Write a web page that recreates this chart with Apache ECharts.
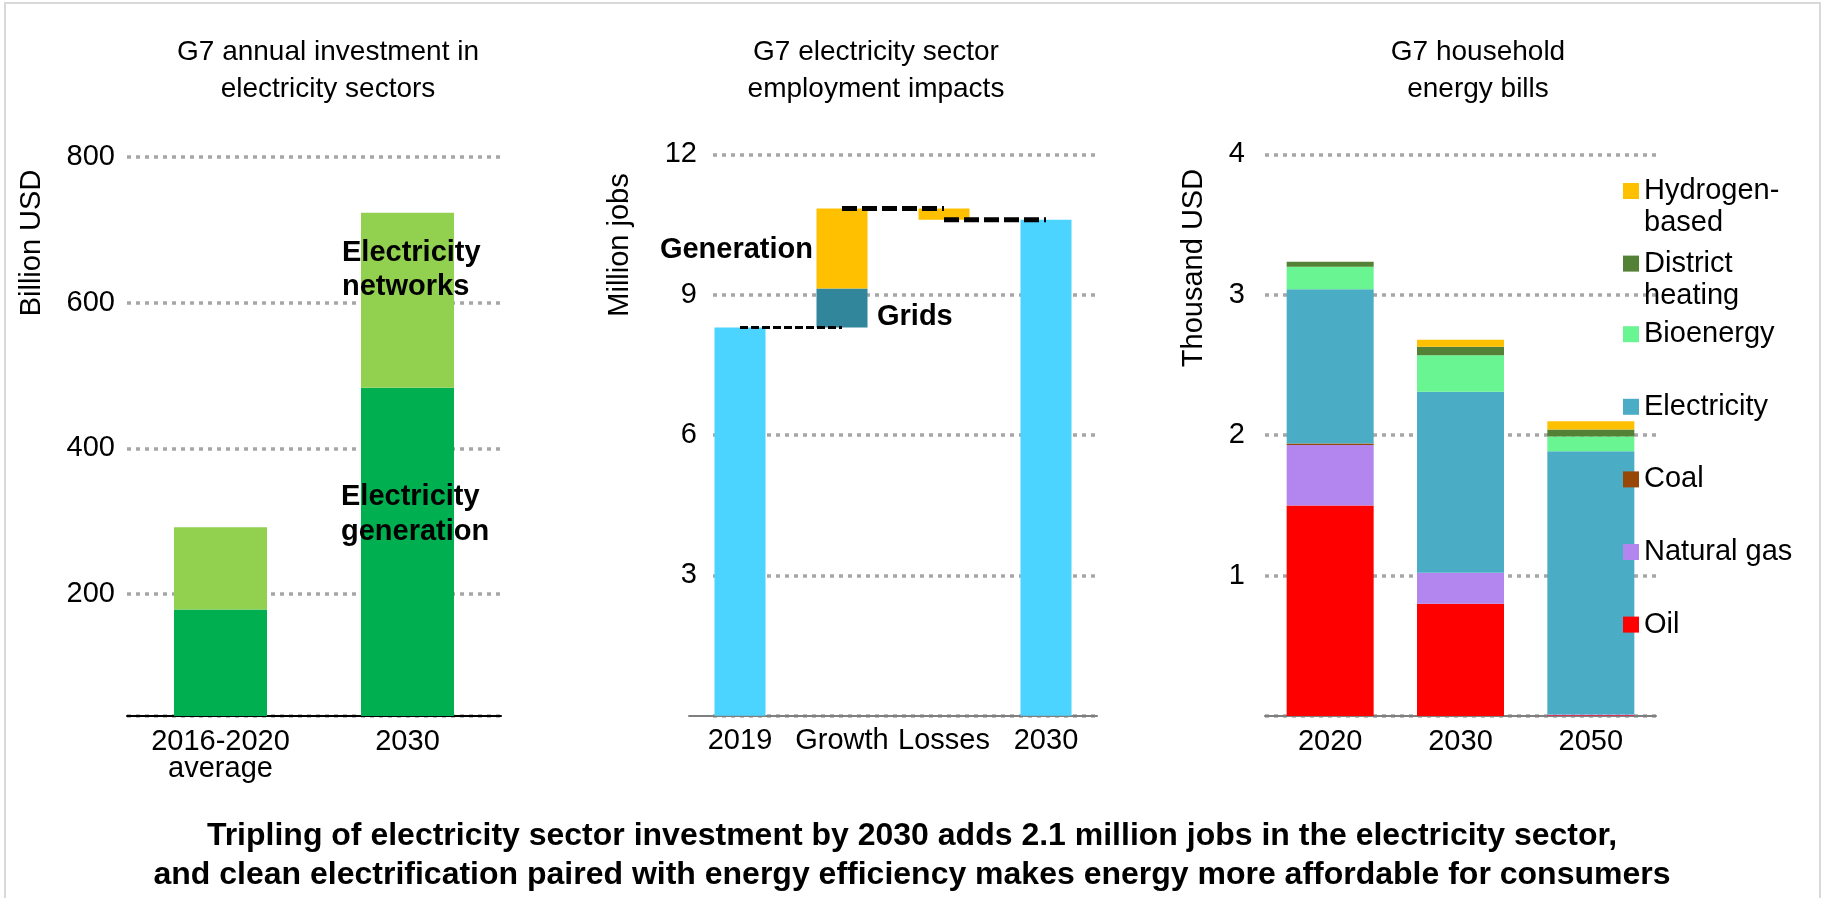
<!DOCTYPE html>
<html>
<head>
<meta charset="utf-8">
<script src="https://cdn.jsdelivr.net/npm/echarts@6/dist/echarts.min.js"></script>
<style>
  html, body { margin: 0; padding: 0; background: #fff; }
  #chart { width: 1825px; height: 898px; }
</style>
</head>
<body>
<div id="chart"></div>
<script>
// Panel 1: G7 annual investment in electricity sectors (billion USD)
const investCategories = ['2016-2020\naverage', '2030'];
const investGeneration = [179, 483];
const investNetworks = [113, 240];

// Panel 2: G7 electricity sector employment (million jobs), waterfall
const jobsCategories = ['2019', 'Growth', 'Losses', '2030'];
const jobsLevel = [8.30, null, null, 10.60];
const jobsGrids = [null, 0.83, null, null];
const jobsGeneration = [null, 1.71, null, null];
const jobsLosses = [null, null, 0.24, null];

// Panel 3: G7 household energy bills (thousand USD)
const billYears = ['2020', '2030', '2050'];
const billOil = [1.50, 0.80, 0.005];
const billNaturalGas = [0.43, 0.22, 0.005];
const billCoal = [0.01, 0, 0];
const billElectricity = [1.10, 1.29, 1.875];
const billBioenergy = [0.16, 0.26, 0.105];
const billDistrictHeating = [0.035, 0.06, 0.05];
const billHydrogen = [0, 0.05, 0.06];

// Legend entries, top to bottom, with their displayed wording
const billLegendNames = ['Hydrogen-based', 'District heating', 'Bioenergy', 'Electricity', 'Coal', 'Natural gas', 'Oil'];
const billLegendText = ['Hydrogen-\nbased', 'District\nheating', 'Bioenergy', 'Electricity', 'Coal', 'Natural gas', 'Oil'];

const FONT = "'Liberation Sans', Arial, Helvetica, sans-serif";
const dash = v => (v === null ? '-' : v);

// Waterfall levels derived from the data
const jobsStart = jobsLevel[0];
const jobsPeak = jobsStart + jobsGrids[1] + jobsGeneration[1];
const jobsAfterLosses = jobsPeak - jobsLosses[2];
const jobsBase = [0, jobsStart, jobsAfterLosses, 0];

const gridLine = { show: true, lineStyle: { color: '#A6A6A6', width: 3.5, type: [4, 5] } };
const tickLabel = { color: '#000', fontSize: 29, fontFamily: FONT };

const chart = echarts.init(document.getElementById('chart'), null, { renderer: 'canvas' });

const billSeries = [
  ['Oil', billOil, '#FF0000'],
  ['Natural gas', billNaturalGas, '#B286EE'],
  ['Coal', billCoal, '#974706'],
  ['Electricity', billElectricity, '#4BACC6'],
  ['Bioenergy', billBioenergy, '#69F591'],
  ['District heating', billDistrictHeating, '#538135'],
  ['Hydrogen-based', billHydrogen, '#FFC000']
].map(([name, data, color]) => ({
  name, type: 'bar', stack: 'bills', xAxisIndex: 3, yAxisIndex: 3,
  barWidth: 87, data, itemStyle: { color }
}));

// One legend block per entry so each square lines up with the first text line
const LEG_LH = 32;
const legends = billLegendNames.map((name, i) => {
  const lines = billLegendText[i].split('\n').length;
  const text = lines > 1 ? '\n' + billLegendText[i] : billLegendText[i];
  const shown = lines > 1 ? 3 : 1;
  const iconCenter = 189 + i * 72.6;
  return {
    left: 1623, top: iconCenter - shown * LEG_LH / 2 + (lines > 1 ? 2 : 0), orient: 'vertical',
    padding: 0, itemGap: 0, itemWidth: 16, itemHeight: 16, selectedMode: false,
    data: [{ name, icon: 'rect' }],
    formatter: () => text,
    textStyle: { color: '#000', fontSize: 29, lineHeight: LEG_LH, fontFamily: FONT }
  };
});

const txt = (text, x, y, opts = {}) => ({
  type: 'text', x, y, z: 100, rotation: opts.rotation || 0, silent: true,
  style: {
    text, fill: '#000', fontFamily: FONT,
    fontSize: opts.size || 29, fontWeight: opts.weight || 'normal',
    lineHeight: opts.lh || 34, align: opts.align || 'center', verticalAlign: 'middle'
  }
});

const option = {
  animation: false,
  backgroundColor: '#fff',
  grid: [
    { left: 127, top: 156.7, width: 374, height: 559.3 },
    { left: 689, top: 154.3, width: 408, height: 561.4 },
    { left: 713, top: 154.3, width: 384, height: 561.4 },
    { left: 1265, top: 154.4, width: 391, height: 561.6 }
  ],
  xAxis: [
    { type: 'category', gridIndex: 0, data: investCategories,
      axisLine: { lineStyle: { color: '#000', width: 2 } }, axisTick: { show: false },
      axisLabel: { ...tickLabel, margin: 12, lineHeight: 27, interval: 0 } },
    { type: 'category', gridIndex: 1, data: jobsCategories,
      axisLine: { lineStyle: { color: '#7F7F7F', width: 2 } }, axisTick: { show: false },
      axisLabel: { ...tickLabel, margin: 12, lineHeight: 27, interval: 0, hideOverlap: false } },
    { type: 'value', gridIndex: 2, show: false },
    { type: 'category', gridIndex: 3, data: billYears,
      axisLine: { lineStyle: { color: '#7F7F7F', width: 2 } }, axisTick: { show: false },
      axisLabel: { ...tickLabel, margin: 12, lineHeight: 27, interval: 0 } }
  ],
  yAxis: [
    { type: 'value', gridIndex: 0, min: 33, max: 800, splitNumber: 4,
      axisLine: { show: false }, axisTick: { show: false }, splitLine: gridLine,
      axisLabel: { ...tickLabel, margin: 12, showMinLabel: false } },
    { type: 'value', gridIndex: 1, min: 0, max: 12, interval: 3, show: false, splitLine: { show: false } },
    { type: 'value', gridIndex: 2, min: 0, max: 12, interval: 3,
      axisLine: { show: false }, axisTick: { show: false }, splitLine: gridLine,
      axisLabel: { ...tickLabel, margin: 16, showMinLabel: false } },
    { type: 'value', gridIndex: 3, min: 0, max: 4, interval: 1,
      axisLine: { show: false }, axisTick: { show: false }, splitLine: gridLine,
      axisLabel: { ...tickLabel, margin: 20, showMinLabel: false } }
  ],
  legend: legends,
  series: [
    { name: 'Electricity generation', type: 'bar', stack: 'invest', xAxisIndex: 0, yAxisIndex: 0,
      barWidth: 93, data: investGeneration, itemStyle: { color: '#00B050' } },
    { name: 'Electricity networks', type: 'bar', stack: 'invest', xAxisIndex: 0, yAxisIndex: 0,
      barWidth: 93, data: investNetworks, itemStyle: { color: '#92D050' } },

    { name: 'base', type: 'bar', stack: 'jobs', xAxisIndex: 1, yAxisIndex: 1, barWidth: 51,
      data: jobsBase, itemStyle: { color: 'rgba(0,0,0,0)' }, silent: true },
    { name: 'Employment', type: 'bar', stack: 'jobs', xAxisIndex: 1, yAxisIndex: 1, barWidth: 51,
      data: jobsLevel.map(dash), itemStyle: { color: '#4AD4FF' } },
    { name: 'Grids', type: 'bar', stack: 'jobs', xAxisIndex: 1, yAxisIndex: 1, barWidth: 51,
      data: jobsGrids.map(dash), itemStyle: { color: '#31869B' } },
    { name: 'Generation', type: 'bar', stack: 'jobs', xAxisIndex: 1, yAxisIndex: 1, barWidth: 51,
      data: jobsGeneration.map(dash), itemStyle: { color: '#FFC000' } },
    { name: 'Losses', type: 'bar', stack: 'jobs', xAxisIndex: 1, yAxisIndex: 1, barWidth: 51,
      data: jobsLosses.map(dash), itemStyle: { color: '#FFC000' } },

    { name: 'step1', type: 'line', xAxisIndex: 1, yAxisIndex: 1, symbol: 'none', silent: true, z: 10,
      data: [[0, jobsStart], [1, jobsStart]], lineStyle: { color: '#000', width: 3, type: [8, 3] } },
    { name: 'step2', type: 'line', xAxisIndex: 1, yAxisIndex: 1, symbol: 'none', silent: true, z: 10,
      data: [[1, jobsPeak], [2, jobsPeak]], lineStyle: { color: '#000', width: 5, type: [15, 5] } },
    { name: 'step3', type: 'line', xAxisIndex: 1, yAxisIndex: 1, symbol: 'none', silent: true, z: 10,
      data: [[2, jobsAfterLosses], [3, jobsAfterLosses]], lineStyle: { color: '#000', width: 5, type: [15, 5] } },

    ...billSeries
  ],
  graphic: [
    { type: 'rect', silent: true, z: 100, shape: { x: 5, y: 3, width: 1815, height: 1000 },
      style: { fill: 'none', stroke: '#D9D9D9', lineWidth: 2 } },

    txt('G7 annual investment in\nelectricity sectors', 328, 71, { size: 28, lh: 37 }),
    txt('G7 electricity sector\nemployment impacts', 876, 71, { size: 28, lh: 37 }),
    txt('G7 household\nenergy bills', 1478, 71, { size: 28, lh: 37 }),

    txt('Billion USD', 32, 243, { rotation: Math.PI / 2 }),
    txt('Million jobs', 620, 245, { rotation: Math.PI / 2 }),
    txt('Thousand USD', 1194, 268, { rotation: Math.PI / 2 }),

    txt('Electricity\nnetworks', 342, 270, { weight: 'bold', lh: 34, align: 'left' }),
    txt('Electricity\ngeneration', 341, 514, { weight: 'bold', lh: 35, align: 'left' }),
    txt('Generation', 813, 250, { weight: 'bold', align: 'right' }),
    txt('Grids', 877, 317, { weight: 'bold', align: 'left' }),

    txt('Tripling of electricity sector investment by 2030 adds 2.1 million jobs in the electricity sector,\nand clean electrification paired with energy efficiency makes energy more affordable for consumers',
        912, 856, { size: 32, weight: 'bold', lh: 39 })
  ]
};

chart.setOption(option);
</script>
</body>
</html>
